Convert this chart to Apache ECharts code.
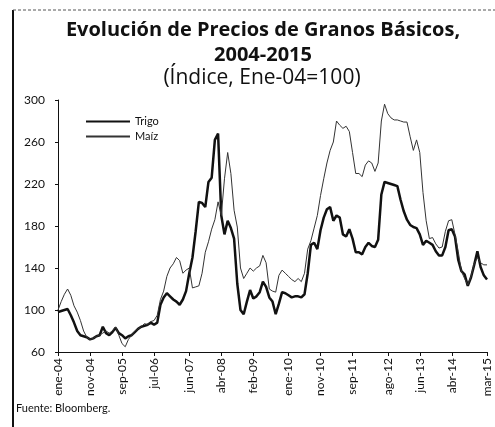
<!DOCTYPE html>
<html>
<head>
<meta charset="utf-8">
<script src="https://cdn.jsdelivr.net/npm/echarts@6/dist/echarts.min.js"></script>
<style>
  html, body { margin: 0; padding: 0; background: #fff; }
  #main { width: 495px; height: 427px; }
</style>
</head>
<body>
<div id="main"></div>
<script>
// meses ene-04 .. mar-15
const meses = ['ene', 'feb', 'mar', 'abr', 'may', 'jun', 'jul', 'ago', 'sep', 'oct', 'nov', 'dic'];
const categorias = [];
for (let a = 4; a <= 15; a++) {
  for (let m = 0; m < 12; m++) {
    if (a === 15 && m > 2) break;
    categorias.push(meses[m] + '-' + (a < 10 ? '0' + a : a));
  }
}
// etiquetas visibles del eje x
const etiquetasX = ['ene-04', 'nov-04', 'sep-05', 'jul-06', 'jun-07', 'abr-08', 'feb-09',
  'ene-10', 'nov-10', 'sep-11', 'ago-12', 'jun-13', 'abr-14', 'mar-15'];

const trigo = [
  98, 99, 100, 101, 95, 88, 80, 76, 75, 74,
  72, 73, 75, 76, 84, 78, 76, 79, 83, 78,
  76, 73, 75, 76, 79, 82, 84, 85, 86, 88,
  86, 88, 105, 112, 116, 113, 110, 108, 105, 110,
  118, 135, 150, 175, 203, 202, 198, 222, 226, 262,
  268, 190, 172, 185, 178, 168, 125, 100, 96, 108,
  119, 111, 113, 117, 127, 122, 112, 108, 96, 106,
  117, 116, 114, 112, 113, 113, 112, 115, 135, 162,
  164, 158, 176, 188, 196, 198, 185, 190, 188, 172,
  170, 177, 168, 155, 155, 153, 160, 164, 161, 160,
  167, 210, 222, 221, 220, 219, 218, 205, 194, 186,
  181, 179, 178, 172, 162, 166, 164, 162, 156, 152,
  152, 160, 176, 177, 170, 148, 137, 134, 123, 131,
  143, 156, 141, 133, 129
];
const maiz = [
  100, 108, 115, 120, 114, 104, 98, 90, 80, 74,
  72, 73, 75, 76, 78, 80, 78, 80, 84, 76,
  68, 65, 72, 76, 80, 82, 84, 87, 86, 89,
  90, 95, 110, 118, 132, 140, 144, 150, 147, 135,
  138, 140, 121, 122, 123, 135, 155, 165, 177, 186,
  203, 190, 225, 250, 230, 195, 179, 140, 130, 135,
  140, 137, 140, 142, 152, 145, 120, 118, 117, 133,
  138, 135, 132, 129, 127, 130, 127, 135, 158, 166,
  178, 190, 209, 225, 240, 252, 260, 280, 276, 273,
  275, 270, 250, 230, 230, 227, 238, 242, 240, 232,
  240, 280, 296, 287, 283, 281, 281, 280, 279, 279,
  265, 252, 262, 250, 212, 185, 168, 169, 163, 159,
  160, 175, 185, 186, 172, 156, 137, 130, 124, 132,
  144, 150, 145, 143, 143
];

const fuente = 'Lato, "Noto Sans", sans-serif';
const fuenteTitulo = '"Open Sans", "Noto Sans", sans-serif';
const chart = echarts.init(document.getElementById('main'));
const mostrar = (i, v) => etiquetasX.indexOf(v) >= 0;

chart.setOption({
  backgroundColor: '#ffffff',
  animation: false,
  textStyle: { fontFamily: fuente, color: '#111' },
  title: [
    {
      text: 'Evolución de Precios de Granos Básicos,\n2004-2015',
      left: 258, top: 13, textAlign: 'center',
      textStyle: { fontFamily: fuenteTitulo, fontSize: 20, fontWeight: 'bold', color: '#111', lineHeight: 25 }
    },
    {
      text: '(Índice, Ene-04=100)',
      left: 257, top: 63, textAlign: 'center',
      textStyle: { fontFamily: fuenteTitulo, fontSize: 21, fontWeight: 'normal', color: '#111' }
    }
  ],
  legend: {
    orient: 'vertical', left: 80, top: 111, itemGap: 4,
    itemWidth: 44, itemHeight: 10,
    itemStyle: { opacity: 0 },
    textStyle: { fontSize: 11, color: '#111' },
    data: ['Trigo', 'Maíz']
  },
  grid: { left: 58, right: 8, top: 100, bottom: 75 },
  xAxis: {
    type: 'category', data: categorias, boundaryGap: false,
    axisLine: { lineStyle: { color: '#111', width: 1 } },
    axisTick: { interval: mostrar, length: 4, lineStyle: { color: '#111' } },
    axisLabel: { interval: mostrar, rotate: 90, fontSize: 12, color: '#111', margin: 6 },
    splitLine: { show: false }
  },
  yAxis: {
    type: 'value', min: 60, max: 300, interval: 40,
    axisLine: { show: true, lineStyle: { color: '#111', width: 1 } },
    axisTick: { show: true, length: 3, lineStyle: { color: '#111' } },
    axisLabel: { fontSize: 12, color: '#111', margin: 13 },
    splitLine: { show: false }
  },
  series: [
    {
      name: 'Trigo', type: 'line', data: trigo, symbol: 'none',
      lineStyle: { color: '#111', width: 2.5 }, itemStyle: { color: '#111' }
    },
    {
      name: 'Maíz', type: 'line', data: maiz, symbol: 'none',
      lineStyle: { color: '#333', width: 1 }, itemStyle: { color: '#333' }
    }
  ],
  graphic: [
    { type: 'line', shape: { x1: 13, y1: 10, x2: 13, y2: 427 }, style: { stroke: '#111', lineWidth: 2 } },
    { type: 'line', shape: { x1: 13, y1: 10, x2: 495, y2: 10 }, style: { stroke: '#555', lineWidth: 1, lineDash: [3, 2] } },
    { type: 'text', left: 16, top: 403, style: { text: 'Fuente: Bloomberg.', fontSize: 11, fontFamily: fuente, fill: '#111' } }
  ]
});
</script>
</body>
</html>
